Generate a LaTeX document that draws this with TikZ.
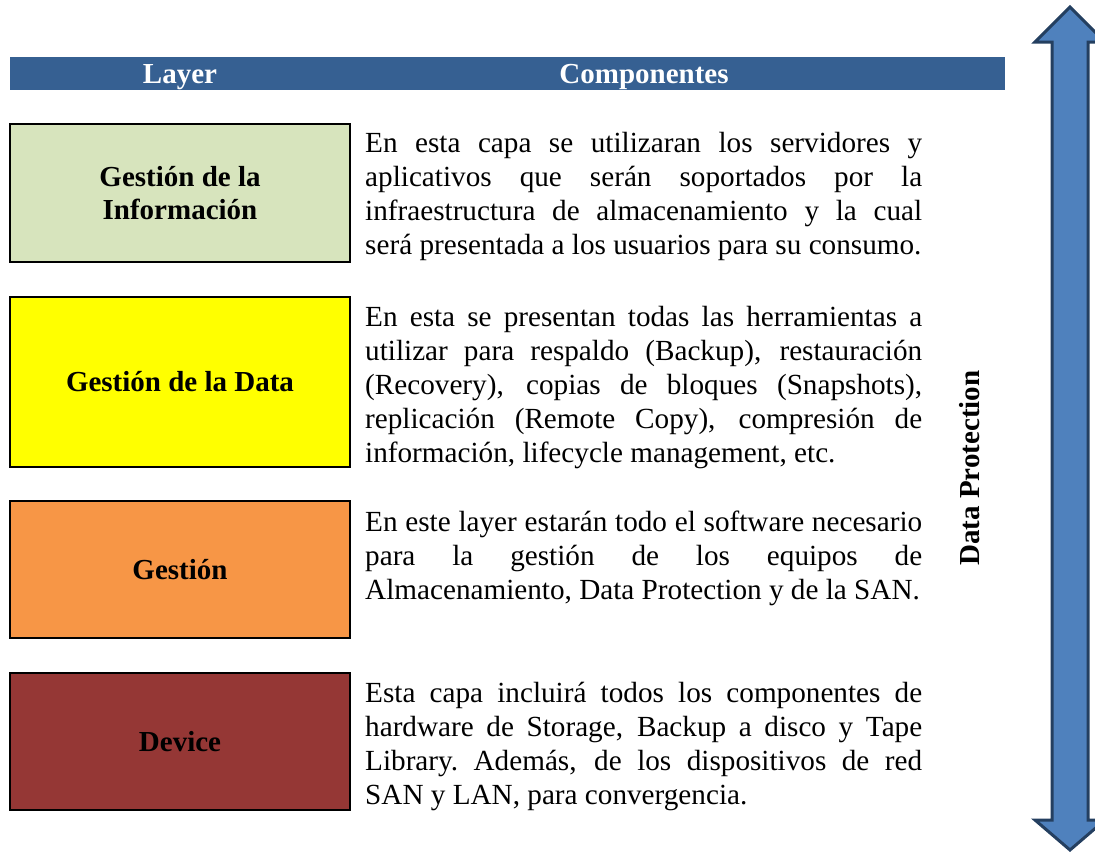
\documentclass[tikz,border=0pt]{standalone}
\usepackage{fontspec}
\setmainfont{Liberation Serif}[BoldFont={Liberation Serif Bold},ItalicFont={Liberation Serif Italic}]
\usetikzlibrary{positioning}

\definecolor{hdrblue}{HTML}{366092}
\definecolor{infogreen}{HTML}{D7E4BD}
\definecolor{datayellow}{HTML}{FFFF00}
\definecolor{gestorange}{HTML}{F79646}
\definecolor{devicered}{HTML}{953735}
\definecolor{arrowfill}{HTML}{4F81BD}
\definecolor{arrowline}{HTML}{243F60}

\begin{document}
\begin{tikzpicture}[x=1pt,y=-1pt]
\tikzstyle{layer}=[rectangle,draw=black,line width=2pt,minimum width=340pt,inner sep=0pt,align=center,font=\fontsize{29}{33}\selectfont\bfseries]
\tikzstyle{desc}=[anchor=base west,inner sep=0pt,text width=557pt,align=justify,font=\fontsize{29.2}{34}\selectfont,execute at begin node={\tolerance=10000\relax\hbadness=10000\relax\hfuzz=20pt\relax}]
\tikzstyle{head}=[anchor=base,inner sep=0pt,text=white,font=\fontsize{29}{34}\selectfont\bfseries]
\clip (0,0) rectangle (1095,852);

% Header bar
\node (hdr) [rectangle,fill=hdrblue,minimum width=995pt,minimum height=33pt,inner sep=0pt] at (507.5,73.5) {};
\node (hLayer) [head] at (180,83) {Layer};
\node (hComp) [head] at (644,83) {Componentes};

% Layers
\node (GI) [layer,fill=infogreen,minimum height=138pt] at (180,193) {Gestión de la\\Información};
\node (GD) [layer,fill=datayellow,minimum height=170pt] at (180,382) {Gestión de la Data};
\node (GE) [layer,fill=gestorange,minimum height=137pt] at (180,569.5) {Gestión};
\node (DV) [layer,fill=devicered,minimum height=137pt] at (180,741.5) {Device};

% Components
\node (tGI) [desc] at (365,152) {En esta capa se utilizaran los servidores y \linebreak aplicativos que serán soportados por la \linebreak infraestructura de almacenamiento y la cual \linebreak será presentada a los usuarios para su consumo.};
\node (tGD) [desc] at (365,326) {En esta se presentan todas las herramientas a \linebreak utilizar para respaldo (Backup), restauración \linebreak (Recovery), copias de bloques (Snapshots), \linebreak replicación (Remote Copy), compresión de \linebreak información, lifecycle management, etc.};
\node (tGE) [desc] at (365,531) {En este layer estarán todo el software necesario \linebreak para la gestión de los equipos de \linebreak Almacenamiento, Data Protection y de la SAN.};
\node (tDV) [desc] at (365,702) {Esta capa incluirá todos los componentes de \linebreak hardware de Storage, Backup a disco y Tape \linebreak Library.\ Además, de los dispositivos de red \linebreak SAN y LAN, para convergencia.};

% Data Protection arrow
\draw[line width=3pt,draw=arrowline,fill=arrowfill,line join=miter]
  (1070,7) -- (1105,42) -- (1088,42) -- (1088,820) -- (1105,820) -- (1070,850)
  -- (1035,820) -- (1052,820) -- (1052,42) -- (1035,42) -- cycle;
\node (dp) [rotate=90,inner sep=0pt,font=\fontsize{29}{34}\selectfont\bfseries] at (970,468) {Data Protection};

\end{tikzpicture}
\end{document}
